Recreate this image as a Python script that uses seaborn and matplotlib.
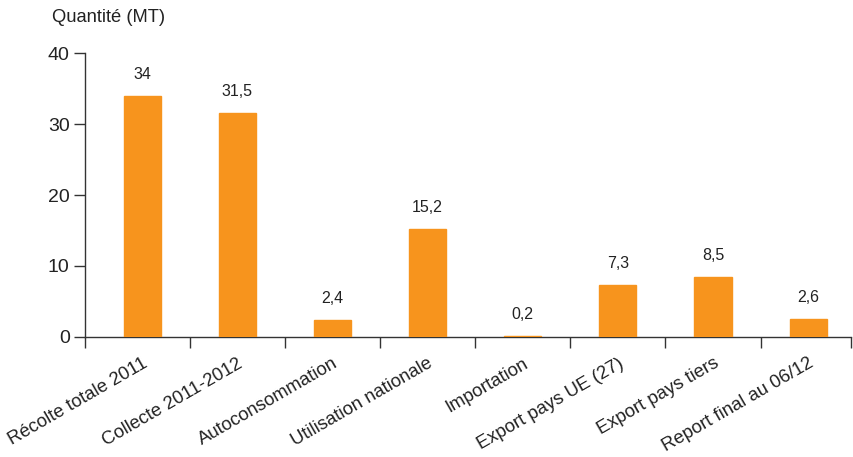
import matplotlib
matplotlib.use("Agg")
import matplotlib.pyplot as plt
import seaborn as sns
import pandas as pd

categories = ["Récolte totale 2011", "Collecte 2011-2012", "Autoconsommation",
              "Utilisation nationale", "Importation", "Export pays UE (27)",
              "Export pays tiers", "Report final au 06/12"]
values = [34, 31.5, 2.4, 15.2, 0.2, 7.3, 8.5, 2.6]
value_labels = ["34", "31,5", "2,4", "15,2", "0,2", "7,3", "8,5", "2,6"]
y_ticks = [0, 10, 20, 30, 40]
y_title = "Quantité (MT)"

sns.set_theme(style="white")
plt.rcParams['font.family'] = ['Liberation Sans', 'DejaVu Sans']

df = pd.DataFrame({"cat": categories, "val": values})

fig = plt.figure(figsize=(8.54, 4.57), dpi=100)
ax = fig.add_axes([0.0995, 0.2626, 0.897, 0.6214])

sns.barplot(data=df, x="cat", y="val", color="#F7941D", saturation=1,
            width=0.39, ax=ax, edgecolor="#F7941D", linewidth=1.0)

axis_col = "#333333"
for s in ["top", "right"]:
    ax.spines[s].set_visible(False)
for s in ["left", "bottom"]:
    ax.spines[s].set_color(axis_col)
    ax.spines[s].set_linewidth(1.0)
    ax.spines[s].set_zorder(0.5)

ax.set_ylim(0, 40)
ax.set_xlim(-0.6, 7.45)
ax.set_yticks(y_ticks)
ax.set_yticklabels([str(t) for t in y_ticks], fontsize=14, color="#222222")
ax.tick_params(axis="y", direction="out", length=8, width=1, color=axis_col, pad=3, left=True)

n = len(categories)
bounds = [-0.6] + [i + 0.5 for i in range(n - 1)] + [7.45]
ax.set_xticks(bounds)
ax.set_xticklabels([""] * len(bounds))
ax.tick_params(axis="x", which="major", direction="out", length=8, width=1, color=axis_col, bottom=True)
ax.set_xticks(range(n), minor=True)
ax.set_xticklabels(categories, minor=True, rotation=30, ha="right",
                   rotation_mode="anchor", fontsize=13.3, color="#222222")
ax.tick_params(axis="x", which="minor", length=0, pad=13)
ax.set_xlabel("")
ax.set_ylabel("")

for i, (v, lab) in enumerate(zip(values, value_labels)):
    ax.annotate(lab, (i, v), xytext=(0, 10), textcoords="offset points",
                ha="center", va="bottom", fontsize=11.5, color="#222222")

fig.text(52 / 854, 1 - 17 / 457, y_title, ha="left", va="center",
         fontsize=13.2, color="#222222")

fig.savefig("out.png", dpi=100)
